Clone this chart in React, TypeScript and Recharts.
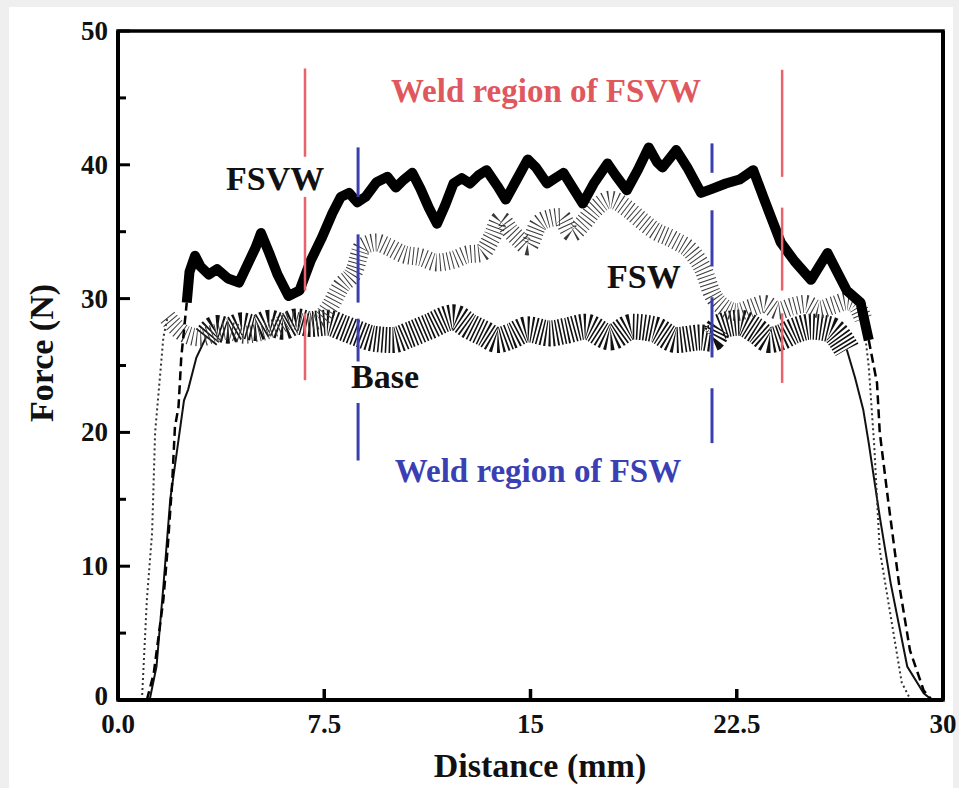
import { LineChart, Line, XAxis, YAxis, ReferenceLine, Customized } from "recharts";

// distance (mm) vs force (N)
const FSVW_RISE = [
  { d: 1.05, f: 0 }, { d: 1.3, f: 2.0 }, { d: 1.65, f: 7.5 }, { d: 1.8, f: 11.2 },
  { d: 1.97, f: 16.2 }, { d: 2.07, f: 20.4 }, { d: 2.2, f: 21.9 }, { d: 2.25, f: 23.7 },
  { d: 2.3, f: 25.6 }, { d: 2.5, f: 29.7 },
];
const FSVW_BAND = [
  { d: 2.5, f: 29.7 }, { d: 2.6, f: 32.0 }, { d: 2.8, f: 33.2 }, { d: 3.0, f: 32.4 },
  { d: 3.3, f: 31.8 }, { d: 3.6, f: 32.2 }, { d: 4.0, f: 31.5 }, { d: 4.4, f: 31.2 },
  { d: 4.7, f: 32.5 }, { d: 5.0, f: 33.8 }, { d: 5.2, f: 34.9 }, { d: 5.5, f: 33.4 },
  { d: 5.8, f: 31.8 }, { d: 6.2, f: 30.2 }, { d: 6.6, f: 30.6 }, { d: 7.0, f: 32.8 },
  { d: 7.4, f: 34.5 }, { d: 7.8, f: 36.4 }, { d: 8.1, f: 37.6 }, { d: 8.4, f: 37.9 },
  { d: 8.7, f: 37.2 }, { d: 9.0, f: 37.6 }, { d: 9.4, f: 38.7 }, { d: 9.8, f: 39.1 },
  { d: 10.1, f: 38.3 }, { d: 10.4, f: 38.9 }, { d: 10.7, f: 39.4 }, { d: 11.0, f: 38.2 },
  { d: 11.3, f: 36.8 }, { d: 11.6, f: 35.6 }, { d: 11.9, f: 37.0 }, { d: 12.2, f: 38.6 },
  { d: 12.5, f: 39.0 }, { d: 12.8, f: 38.6 }, { d: 13.1, f: 39.2 }, { d: 13.4, f: 39.6 },
  { d: 13.8, f: 38.4 }, { d: 14.1, f: 37.4 }, { d: 14.5, f: 38.9 }, { d: 14.9, f: 40.4 },
  { d: 15.2, f: 39.8 }, { d: 15.6, f: 38.6 }, { d: 15.9, f: 39.0 }, { d: 16.2, f: 39.4 },
  { d: 16.5, f: 38.4 }, { d: 16.9, f: 37.1 }, { d: 17.3, f: 38.6 }, { d: 17.8, f: 40.1 },
  { d: 18.1, f: 39.2 }, { d: 18.5, f: 38.1 }, { d: 18.9, f: 39.6 }, { d: 19.3, f: 41.3 },
  { d: 19.6, f: 40.2 }, { d: 19.8, f: 39.8 }, { d: 20.3, f: 41.1 }, { d: 20.7, f: 39.8 },
  { d: 21.2, f: 37.9 }, { d: 21.6, f: 38.2 }, { d: 22.1, f: 38.6 }, { d: 22.6, f: 38.9 },
  { d: 23.1, f: 39.6 }, { d: 23.5, f: 37.4 }, { d: 23.8, f: 35.8 }, { d: 24.1, f: 34.2 },
  { d: 24.6, f: 32.8 }, { d: 25.2, f: 31.4 }, { d: 25.5, f: 32.4 }, { d: 25.8, f: 33.4 },
  { d: 26.2, f: 31.8 }, { d: 26.5, f: 30.6 }, { d: 27.0, f: 29.7 }, { d: 27.3, f: 26.9 },
];
const FSVW_FALL = [
  { d: 27.3, f: 26.9 }, { d: 27.6, f: 23.7 }, { d: 27.7, f: 20.0 }, { d: 28.0, f: 15.0 },
  { d: 28.4, f: 8.7 }, { d: 28.8, f: 3.7 }, { d: 29.3, f: 0.7 }, { d: 29.6, f: 0 },
];

const FSW_RISE = [
  { d: 0.87, f: 0 }, { d: 1.05, f: 7.5 }, { d: 1.24, f: 12.5 }, { d: 1.35, f: 20.0 },
  { d: 1.65, f: 27.1 }, { d: 1.8, f: 28.6 },
];
const FSW_BAND = [
  { d: 1.8, f: 28.6 }, { d: 2.1, f: 27.9 }, { d: 2.5, f: 27.3 }, { d: 3.0, f: 27.1 },
  { d: 3.5, f: 27.4 }, { d: 4.0, f: 27.6 }, { d: 4.6, f: 27.3 }, { d: 5.2, f: 27.5 },
  { d: 5.8, f: 27.9 }, { d: 6.3, f: 28.4 }, { d: 6.8, f: 28.2 }, { d: 7.3, f: 28.4 },
  { d: 7.7, f: 29.4 }, { d: 8.1, f: 30.9 }, { d: 8.6, f: 32.1 }, { d: 8.9, f: 33.9 },
  { d: 9.4, f: 34.2 }, { d: 9.8, f: 33.9 }, { d: 10.4, f: 33.3 }, { d: 11.0, f: 33.1 },
  { d: 11.6, f: 32.7 }, { d: 12.2, f: 32.9 }, { d: 12.7, f: 33.3 }, { d: 13.2, f: 33.4 },
  { d: 13.6, f: 34.6 }, { d: 13.9, f: 35.9 }, { d: 14.3, f: 35.0 }, { d: 14.6, f: 34.4 },
  { d: 14.9, f: 33.9 }, { d: 15.3, f: 35.6 }, { d: 15.7, f: 36.0 }, { d: 16.1, f: 36.1 },
  { d: 16.5, f: 34.9 }, { d: 16.9, f: 35.6 }, { d: 17.3, f: 36.6 }, { d: 17.9, f: 37.4 },
  { d: 18.6, f: 36.6 }, { d: 19.0, f: 35.9 }, { d: 19.5, f: 35.1 }, { d: 20.2, f: 34.4 },
  { d: 20.9, f: 33.4 }, { d: 21.3, f: 32.1 }, { d: 21.6, f: 30.4 }, { d: 22.0, f: 29.4 },
  { d: 22.5, f: 29.0 }, { d: 23.0, f: 29.3 }, { d: 23.5, f: 29.6 }, { d: 24.0, f: 29.1 },
  { d: 24.5, f: 29.4 }, { d: 25.0, f: 29.6 }, { d: 25.5, f: 29.2 }, { d: 26.0, f: 29.5 },
  { d: 26.5, f: 29.8 }, { d: 26.8, f: 29.6 }, { d: 27.1, f: 28.5 },
];
const FSW_FALL = [
  { d: 27.1, f: 28.5 }, { d: 27.3, f: 24.9 }, { d: 27.5, f: 19.0 }, { d: 27.6, f: 15.0 },
  { d: 27.7, f: 11.2 }, { d: 28.2, f: 5.0 }, { d: 28.5, f: 1.3 }, { d: 28.8, f: 0.1 },
];

const BASE_RISE = [
  { d: 1.15, f: 0 }, { d: 1.4, f: 2.5 }, { d: 1.65, f: 8.5 }, { d: 1.9, f: 15.0 },
  { d: 2.15, f: 18.7 }, { d: 2.4, f: 22.4 }, { d: 2.55, f: 23.2 }, { d: 2.85, f: 25.6 },
  { d: 3.2, f: 27.1 },
];
const BASE_BAND = [
  { d: 3.2, f: 27.1 }, { d: 3.6, f: 27.8 }, { d: 4.0, f: 27.6 }, { d: 4.5, f: 28.0 },
  { d: 5.0, f: 27.8 }, { d: 5.5, f: 28.2 }, { d: 6.0, f: 27.9 }, { d: 6.5, f: 28.3 },
  { d: 7.0, f: 28.1 }, { d: 7.6, f: 28.2 }, { d: 8.2, f: 27.8 }, { d: 8.7, f: 27.4 },
  { d: 9.3, f: 27.0 }, { d: 10.0, f: 26.9 }, { d: 10.6, f: 27.3 }, { d: 11.3, f: 27.9 },
  { d: 12.2, f: 28.6 }, { d: 12.8, f: 27.9 }, { d: 13.3, f: 27.4 }, { d: 13.8, f: 26.9 },
  { d: 14.3, f: 27.2 }, { d: 14.9, f: 27.7 }, { d: 15.7, f: 27.4 }, { d: 16.3, f: 27.6 },
  { d: 17.0, f: 27.9 }, { d: 17.9, f: 27.1 }, { d: 18.7, f: 27.9 }, { d: 19.5, f: 27.7 },
  { d: 20.3, f: 26.9 }, { d: 21.2, f: 27.1 }, { d: 21.6, f: 27.0 }, { d: 21.9, f: 27.9 },
  { d: 22.6, f: 28.2 }, { d: 23.2, f: 27.6 }, { d: 23.7, f: 26.9 }, { d: 24.1, f: 27.1 },
  { d: 24.6, f: 27.6 }, { d: 25.2, f: 27.9 }, { d: 25.9, f: 27.7 }, { d: 26.5, f: 26.2 },
];
const BASE_FALL = [
  { d: 26.5, f: 26.2 }, { d: 26.8, f: 24.1 }, { d: 27.1, f: 21.7 }, { d: 27.3, f: 19.2 },
  { d: 27.7, f: 13.7 }, { d: 28.1, f: 8.7 }, { d: 28.7, f: 2.5 }, { d: 29.3, f: 0.5 },
  { d: 29.6, f: 0 },
];

// weld region markers: [distance, from force, to force]
const RED_MARKS = [
  [6.8, 47.2, 40.6], [6.8, 37.6, 30.6], [6.8, 28.9, 23.9],
  [24.15, 47.1, 39.1], [24.15, 36.8, 30.6], [24.15, 28.9, 23.7],
];
const BLUE_MARKS = [
  [8.73, 41.3, 37.6], [8.73, 34.8, 29.7], [8.73, 28.5, 25.3], [8.73, 22.2, 17.9],
  [21.6, 41.6, 39.4], [21.6, 36.6, 32.4], [21.6, 30.1, 25.6], [21.6, 23.3, 19.2],
];

const X_TICKS = [0, 7.5, 15, 22.5, 30];
const X_LABELS = ["0.0", "7.5", "15", "22.5", "30"];
const Y_TICKS = [0, 5, 10, 15, 20, 25, 30, 35, 40, 45, 50];
const Y_RIGHT_TICKS = [5, 10, 15, 20, 25, 30, 35, 40, 45];

const FONT = "'Liberation Serif', 'Times New Roman', serif";
const AXIS = { stroke: "#000", strokeWidth: 4 };

const LeftTick = (props: any) => {
  const { x, y, payload } = props;
  const major = payload.value % 10 === 0;
  return (
    <g>
      <line x1={x + 8} x2={x + 8 + (major ? 12 : 8)} y1={y} y2={y} stroke="#000" strokeWidth={3} />
      {major && (
        <text x={x - 2} y={payload.value === 0 ? y + 5 : y + 9} textAnchor="end" fontFamily={FONT} fontWeight="bold" fontSize={27} fill="#111">
          {payload.value}
        </text>
      )}
    </g>
  );
};

const RightTick = (props: any) => {
  const { x, y } = props;
  return <line x1={x - 10} x2={x} y1={y} y2={y} stroke="#000" strokeWidth={3} />;
};

const BottomTick = (props: any) => {
  const { x, y, payload, index } = props;
  const inner = payload.value > 0 && payload.value < 30;
  return (
    <g>
      {inner && <line x1={x} x2={x} y1={y - 11} y2={y} stroke="#000" strokeWidth={3.5} />}
      <text x={x} y={y + 33} textAnchor="middle" fontFamily={FONT} fontWeight="bold" fontSize={27} fill="#111">
        {X_LABELS[index] ?? payload.value}
      </text>
    </g>
  );
};

const Annotations = () => (
  <g fontFamily={FONT} fontWeight="bold">
    <rect x={118} y={31} width={825} height={669} fill="none" stroke="#000" strokeWidth={3.5} />
    <text x={546} y={102} textAnchor="middle" fontSize={33} fill="#e0575d">Weld region of FSVW</text>
    <text x={538} y={482} textAnchor="middle" fontSize={33} fill="#3a40b4">Weld region of FSW</text>
    <text x={226} y={190} fontSize={34} fill="#111">FSVW</text>
    <text x={351} y={388} fontSize={34} fill="#111">Base</text>
    <text x={607} y={288} fontSize={34} fill="#111">FSW</text>
    <text x={540} y={777} textAnchor="middle" fontSize={34} fill="#111">Distance (mm)</text>
    <text x={53} y={353} textAnchor="middle" fontSize={34} fill="#111" transform="rotate(-90, 53, 353)">Force (N)</text>
  </g>
);

export default function App() {
  return (
    <div style={{ position: "absolute", left: 0, top: 0, width: 959, height: 788, background: "#efefef" }}>
      <div style={{ position: "absolute", left: 9, top: 7, width: 944, height: 781, background: "#fff" }} />
      <div style={{ position: "absolute", left: 0, top: 0 }}>
        <LineChart width={959} height={788} margin={{ top: 31, right: 0, bottom: 0, left: 0 }}>
          <XAxis
            type="number"
            dataKey="d"
            domain={[0, 30]}
            ticks={X_TICKS}
            allowDataOverflow
            height={88}
            tickSize={0}
            tickMargin={0}
            tick={<BottomTick />}
            axisLine={AXIS}
          />
          <XAxis
            xAxisId="top"
            orientation="top"
            type="number"
            domain={[0, 30]}
            height={0}
            tick={false}
            tickLine={false}
            axisLine={AXIS}
          />
          <YAxis
            type="number"
            domain={[0, 50]}
            ticks={Y_TICKS}
            width={118}
            tickSize={0}
            tickMargin={8}
            tick={<LeftTick />}
            axisLine={AXIS}
          />
          <YAxis
            yAxisId="right"
            orientation="right"
            type="number"
            domain={[0, 50]}
            ticks={Y_RIGHT_TICKS}
            width={16}
            tickSize={0}
            tickMargin={0}
            tick={<RightTick />}
            axisLine={AXIS}
          />

          <Line data={BASE_RISE} dataKey="f" type="linear" stroke="#111" strokeWidth={2} dot={false} isAnimationActive={false} />
          <Line data={BASE_BAND} dataKey="f" type="monotone" stroke="#111" strokeWidth={26} strokeDasharray="1.6 2" dot={false} isAnimationActive={false} />
          <Line data={BASE_FALL} dataKey="f" type="linear" stroke="#111" strokeWidth={2} dot={false} isAnimationActive={false} />

          <Line data={FSW_RISE} dataKey="f" type="linear" stroke="#333" strokeWidth={2} strokeDasharray="2 3" dot={false} isAnimationActive={false} />
          <Line data={FSW_BAND} dataKey="f" type="monotone" stroke="#3a3a3a" strokeWidth={18} strokeDasharray="1 3" dot={false} isAnimationActive={false} />
          <Line data={FSW_FALL} dataKey="f" type="linear" stroke="#333" strokeWidth={2} strokeDasharray="2 3" dot={false} isAnimationActive={false} />

          <Line data={FSVW_RISE} dataKey="f" type="linear" stroke="#000" strokeWidth={2.5} strokeDasharray="9 5" dot={false} isAnimationActive={false} />
          <Line data={FSVW_BAND} dataKey="f" type="linear" stroke="#000" strokeWidth={10} strokeLinejoin="round" dot={false} isAnimationActive={false} />
          <Line data={FSVW_FALL} dataKey="f" type="linear" stroke="#000" strokeWidth={2.5} strokeDasharray="9 5" dot={false} isAnimationActive={false} />

          {RED_MARKS.map(([d, a, b], i) => (
            <ReferenceLine key={"r" + i} segment={[{ x: d, y: a }, { x: d, y: b }]} stroke="#e8636a" strokeWidth={2.5} />
          ))}
          {BLUE_MARKS.map(([d, a, b], i) => (
            <ReferenceLine key={"b" + i} segment={[{ x: d, y: a }, { x: d, y: b }]} stroke="#3a3fb0" strokeWidth={3} />
          ))}

          <Customized component={Annotations} />
        </LineChart>
      </div>
    </div>
  );
}
